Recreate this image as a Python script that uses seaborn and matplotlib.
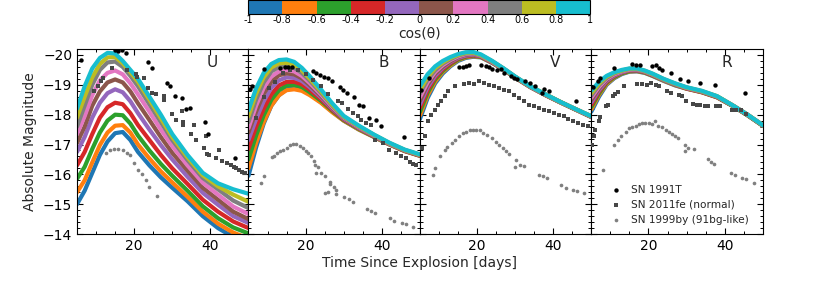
import numpy as np
import pandas as pd
import matplotlib
matplotlib.use('Agg')
import matplotlib.pyplot as plt
import seaborn as sns
from matplotlib.colors import ListedColormap, BoundaryNorm
from matplotlib.ticker import MultipleLocator

sns.set_style('ticks', {'axes.edgecolor': 'black', 'xtick.color': 'black', 'ytick.color': 'black'})

# model time grid (days since explosion)
T_MODEL = [5, 7, 9, 11, 13, 15, 17, 19, 21, 24, 27, 30, 34, 38, 42, 46, 50]
COS_BINS = [-0.9, -0.7, -0.5, -0.3, -0.1, 0.1, 0.3, 0.5, 0.7, 0.9]
BIN_EDGES = [-1, -0.8, -0.6, -0.4, -0.2, 0, 0.2, 0.4, 0.6, 0.8, 1]
BAND_NAMES = ['U', 'B', 'V', 'R']

# model light curves, one row per cos(theta) bin (from -0.9 to 0.9)
U_MODEL = [
    [-15.0, -15.45, -16.05, -16.65, -17.1, -17.38, -17.42, -17.15, -16.75, -16.3, -15.9, -15.55, -15.1, -14.6, -14.2, -13.9, -13.7],
    [-15.4, -15.8, -16.4, -16.98, -17.4, -17.63, -17.65, -17.4, -17.0, -16.53, -16.1, -15.73, -15.25, -14.75, -14.35, -14.05, -13.85],
    [-15.85, -16.25, -16.85, -17.4, -17.8, -18.0, -17.98, -17.7, -17.3, -16.8, -16.35, -15.95, -15.45, -14.93, -14.53, -14.22, -14.02],
    [-16.3, -16.75, -17.35, -17.9, -18.25, -18.4, -18.35, -18.05, -17.65, -17.15, -16.65, -16.2, -15.68, -15.15, -14.75, -14.42, -14.2],
    [-16.75, -17.25, -17.9, -18.4, -18.72, -18.85, -18.75, -18.45, -18.05, -17.5, -16.98, -16.5, -15.92, -15.38, -14.98, -14.6, -14.37],
    [-17.05, -17.6, -18.3, -18.78, -19.08, -19.18, -19.08, -18.78, -18.38, -17.82, -17.25, -16.72, -16.12, -15.55, -15.15, -14.75, -14.5],
    [-17.35, -17.95, -18.65, -19.15, -19.4, -19.48, -19.35, -19.05, -18.68, -18.1, -17.5, -16.95, -16.3, -15.72, -15.32, -14.92, -14.67],
    [-17.6, -18.3, -19.0, -19.5, -19.75, -19.78, -19.6, -19.3, -18.95, -18.35, -17.75, -17.15, -16.48, -15.88, -15.5, -15.12, -14.87],
    [-17.9, -18.6, -19.25, -19.7, -19.92, -19.93, -19.72, -19.42, -19.1, -18.5, -17.88, -17.25, -16.57, -15.97, -15.6, -15.32, -15.08],
    [-18.2, -18.95, -19.55, -19.9, -20.07, -20.05, -19.8, -19.5, -19.2, -18.6, -18.0, -17.35, -16.65, -16.05, -15.7, -15.5, -15.35],
]
B_MODEL = [
    [-15.95, -16.9, -17.7, -18.3, -18.65, -18.85, -18.9, -18.85, -18.7, -18.42, -18.1, -17.8, -17.5, -17.25, -17.0, -16.78, -16.62],
    [-16.2, -17.05, -17.75, -18.3, -18.65, -18.82, -18.85, -18.8, -18.66, -18.4, -18.08, -17.8, -17.5, -17.25, -17.0, -16.78, -16.62],
    [-16.5, -17.3, -17.98, -18.5, -18.82, -18.98, -19.0, -18.93, -18.76, -18.47, -18.13, -17.82, -17.52, -17.26, -17.01, -16.79, -16.63],
    [-16.85, -17.6, -18.2, -18.68, -18.98, -19.1, -19.1, -19.02, -18.84, -18.52, -18.16, -17.84, -17.54, -17.27, -17.02, -16.79, -16.63],
    [-17.15, -17.85, -18.45, -18.9, -19.15, -19.25, -19.23, -19.13, -18.93, -18.58, -18.2, -17.86, -17.55, -17.28, -17.02, -16.8, -16.64],
    [-17.4, -18.1, -18.7, -19.1, -19.32, -19.38, -19.35, -19.22, -19.0, -18.63, -18.23, -17.88, -17.57, -17.29, -17.03, -16.8, -16.64],
    [-17.55, -18.3, -18.9, -19.28, -19.45, -19.5, -19.45, -19.3, -19.07, -18.68, -18.26, -17.9, -17.58, -17.3, -17.03, -16.81, -16.65],
    [-17.75, -18.5, -19.08, -19.45, -19.6, -19.63, -19.57, -19.4, -19.15, -18.74, -18.3, -17.92, -17.6, -17.31, -17.04, -16.81, -16.65],
    [-17.95, -18.7, -19.25, -19.58, -19.72, -19.74, -19.67, -19.49, -19.22, -18.79, -18.33, -17.94, -17.61, -17.32, -17.05, -16.82, -16.66],
    [-18.15, -18.88, -19.4, -19.7, -19.83, -19.85, -19.77, -19.57, -19.3, -18.85, -18.38, -17.96, -17.63, -17.33, -17.06, -16.83, -16.67],
]
V_MODEL = [
    [-17.85, -18.55, -19.05, -19.38, -19.62, -19.8, -19.9, -19.94, -19.92, -19.73, -19.5, -19.24, -18.92, -18.65, -18.4, -18.16, -17.92],
    [-17.97, -18.64, -19.11, -19.43, -19.65, -19.83, -19.92, -19.96, -19.93, -19.74, -19.51, -19.24, -18.92, -18.65, -18.4, -18.16, -17.92],
    [-18.09, -18.73, -19.18, -19.47, -19.69, -19.85, -19.94, -19.98, -19.94, -19.75, -19.51, -19.25, -18.93, -18.66, -18.41, -18.17, -17.93],
    [-18.22, -18.82, -19.24, -19.52, -19.72, -19.88, -19.96, -19.99, -19.95, -19.75, -19.52, -19.25, -18.93, -18.66, -18.41, -18.17, -17.93],
    [-18.34, -18.91, -19.3, -19.57, -19.76, -19.9, -19.98, -20.01, -19.96, -19.76, -19.52, -19.26, -18.93, -18.66, -18.41, -18.17, -17.93],
    [-18.46, -19.0, -19.37, -19.61, -19.79, -19.93, -20.01, -20.03, -19.97, -19.77, -19.53, -19.26, -18.94, -18.67, -18.41, -18.17, -17.94],
    [-18.58, -19.08, -19.43, -19.66, -19.83, -19.95, -20.03, -20.05, -19.98, -19.77, -19.53, -19.27, -18.94, -18.67, -18.42, -18.18, -17.94],
    [-18.71, -19.17, -19.49, -19.71, -19.86, -19.98, -20.05, -20.06, -19.99, -19.78, -19.54, -19.27, -18.94, -18.67, -18.42, -18.18, -17.94],
    [-18.83, -19.26, -19.56, -19.75, -19.9, -20.0, -20.07, -20.08, -20.0, -19.79, -19.54, -19.27, -18.95, -18.68, -18.42, -18.18, -17.95],
    [-18.95, -19.35, -19.62, -19.8, -19.93, -20.03, -20.09, -20.1, -20.02, -19.8, -19.55, -19.28, -18.95, -18.68, -18.42, -18.18, -17.95],
]
R_MODEL = [
    [-18.1, -18.6, -19.0, -19.22, -19.36, -19.44, -19.45, -19.4, -19.3, -19.13, -18.98, -18.87, -18.75, -18.58, -18.3, -17.98, -17.63],
    [-18.18, -18.66, -19.03, -19.24, -19.38, -19.45, -19.46, -19.41, -19.31, -19.14, -18.99, -18.87, -18.75, -18.58, -18.3, -17.98, -17.63],
    [-18.26, -18.71, -19.07, -19.26, -19.39, -19.46, -19.47, -19.42, -19.32, -19.15, -19.0, -18.88, -18.76, -18.59, -18.3, -17.98, -17.63],
    [-18.33, -18.77, -19.1, -19.29, -19.41, -19.48, -19.48, -19.43, -19.33, -19.16, -19.01, -18.88, -18.76, -18.59, -18.31, -17.99, -17.64],
    [-18.41, -18.82, -19.13, -19.31, -19.42, -19.49, -19.49, -19.44, -19.34, -19.16, -19.01, -18.89, -18.77, -18.6, -18.31, -17.99, -17.64],
    [-18.49, -18.88, -19.17, -19.33, -19.44, -19.5, -19.51, -19.44, -19.35, -19.17, -19.02, -18.9, -18.77, -18.6, -18.31, -17.99, -17.64],
    [-18.57, -18.93, -19.2, -19.35, -19.45, -19.51, -19.52, -19.45, -19.35, -19.18, -19.03, -18.9, -18.78, -18.61, -18.32, -18.0, -17.65],
    [-18.64, -18.99, -19.23, -19.38, -19.47, -19.53, -19.53, -19.46, -19.36, -19.18, -19.03, -18.91, -18.78, -18.61, -18.32, -18.0, -17.65],
    [-18.72, -19.04, -19.27, -19.4, -19.48, -19.54, -19.54, -19.47, -19.37, -19.19, -19.04, -18.91, -18.79, -18.62, -18.32, -18.0, -17.65],
    [-18.8, -19.1, -19.3, -19.42, -19.5, -19.55, -19.55, -19.48, -19.38, -19.2, -19.05, -18.92, -18.8, -18.62, -18.32, -18.0, -17.65],
]

# observed supernovae
U_91T_T = [6.0, 15.0, 15.8, 16.9, 17.8, 23.6, 24.7, 28.5, 29.5, 30.6, 32.5, 33.7, 34.6, 38.5, 39.5, 46.5]
U_91T_M = [-19.82, -20.15, -20.13, -20.16, -20.07, -19.76, -19.57, -19.07, -18.95, -18.64, -18.56, -18.2, -18.22, -17.74, -17.35, -16.55]
U_11FE_T = [9.5, 10.4, 11.2, 11.9, 14.1, 18.0, 20.4, 20.8, 22.7, 23.6, 24.7, 25.8, 27.7, 27.7, 29.9, 31.1, 32.5, 32.7,
            32.9, 34.9, 35.6, 36.2, 38.3, 38.8, 39.2, 39.6, 41.4, 42.2, 43.1, 44.4, 45.3, 46.1, 46.6, 47.4, 48.3, 49.2]
U_11FE_M = [-18.78, -18.95, -19.12, -19.23, -19.57, -19.51, -19.37, -19.25, -19.23, -18.9, -18.73, -18.7, -18.61, -18.5,
            -18.02, -17.83, -18.11, -17.75, -17.66, -17.35, -17.66, -17.16, -16.88, -17.27, -16.69, -16.66, -16.54, -16.82,
            -16.46, -16.37, -16.32, -16.26, -16.2, -16.15, -16.09, -16.04]
U_99BY_T = [12.5, 13.7, 14.7, 15.8, 17.0, 18.0, 18.9, 19.9, 21.0, 22.1, 23.0, 24.0, 26.0]
U_99BY_M = [-16.73, -16.82, -16.85, -16.85, -16.8, -16.73, -16.65, -16.38, -16.15, -16.01, -15.81, -15.59, -15.28]

B_91T_T = [5.4, 6.0, 9.2, 13.3, 14.6, 15.4, 16.3, 22.0, 22.8, 23.7, 24.8, 25.9, 26.9, 28.9, 29.8, 30.9, 32.8, 34.1, 35.0,
           36.7, 38.5, 39.8, 45.9]
B_91T_M = [-18.85, -18.95, -19.54, -19.55, -19.6, -19.6, -19.6, -19.47, -19.4, -19.34, -19.26, -19.23, -19.14, -18.93,
           -18.84, -18.73, -18.58, -18.33, -18.28, -17.9, -17.83, -17.61, -17.24]
B_11FE_T = [7.0, 9.0, 10.5, 12.0, 14.0, 16.0, 18.0, 20.0, 22.0, 24.0, 26.0, 28.5, 29.6, 31.1, 32.4, 33.7, 34.6, 35.9,
            37.2, 38.1, 40.3, 42.0, 43.8, 45.1, 46.4, 47.3, 48.2, 49.0]
B_11FE_M = [-17.9, -18.6, -18.9, -19.1, -19.4, -19.5, -19.5, -19.35, -19.15, -18.95, -18.7, -18.45, -18.39, -18.2, -18.05,
            -17.94, -17.83, -17.72, -17.66, -17.16, -17.05, -16.82, -16.71, -16.62, -16.54, -16.43, -16.35, -16.32]
B_99BY_T = [8.3, 9.2, 11.3, 11.8, 12.4, 13.3, 14.1, 15.0, 15.9, 16.7, 17.6, 18.5, 19.3, 20.2, 20.5, 21.3, 22.2, 22.4,
            23.3, 22.8, 24.1, 25.2, 26.3, 26.3, 27.4, 25.0, 26.0, 27.9, 28.0, 30.2, 31.3, 32.4, 36.1, 37.2, 38.2, 42.2,
            43.3, 45.2, 46.3, 48.2]
B_99BY_M = [-15.7, -15.96, -16.58, -16.6, -16.71, -16.77, -16.82, -16.88, -16.99, -17.03, -17.03, -16.96, -16.88, -16.77,
            -16.71, -16.62, -16.46, -16.32, -16.26, -16.06, -16.06, -15.93, -15.76, -15.67, -15.59, -15.39, -15.42, -15.33,
            -15.48, -15.25, -15.16, -15.06, -14.83, -14.78, -14.71, -14.55, -14.43, -14.38, -14.33, -14.24]

V_91T_T = [5.4, 7.4, 15.2, 16.3, 17.1, 18.0, 21.0, 22.3, 23.2, 24.0, 25.3, 26.2, 27.1, 28.8, 29.7, 30.5, 32.7, 34.0,
           35.3, 37.0, 37.5, 38.8, 45.9]
V_91T_M = [-18.84, -19.23, -19.59, -19.59, -19.62, -19.68, -19.66, -19.62, -19.59, -19.54, -19.51, -19.53, -19.4, -19.29,
           -19.23, -19.2, -19.12, -19.06, -18.95, -18.73, -18.87, -18.78, -18.45]
V_11FE_T = [5.6, 6.3, 7.2, 8.0, 8.9, 9.8, 10.6, 11.5, 12.4, 14.1, 16.7, 18.0, 19.3, 20.6, 21.9, 23.2, 24.5, 25.8, 27.1,
            28.4, 29.7, 31.0, 32.3, 33.6, 34.9, 36.2, 37.5, 38.8, 40.1, 41.4, 42.7, 44.0, 45.3, 46.6, 47.9, 49.2]
V_11FE_M = [-16.88, -17.27, -17.78, -18.0, -18.17, -18.34, -18.47, -18.61, -18.78, -18.95, -19.03, -19.06, -19.02,
            -19.12, -19.06, -18.98, -18.95, -18.9, -18.81, -18.78, -18.67, -18.56, -18.45, -18.34, -18.28, -18.22, -18.17,
            -18.11, -18.05, -18.0, -17.94, -17.87, -17.8, -17.72, -17.66, -17.61]
V_99BY_T = [8.4, 8.9, 10.3, 11.6, 12.2, 13.3, 14.2, 15.3, 16.4, 17.2, 18.1, 18.9, 19.8, 20.7, 21.6, 22.6, 23.8, 24.9,
            25.8, 26.8, 27.7, 28.3, 30.2, 31.3, 32.3, 29.9, 36.3, 37.3, 38.4, 42.1, 43.3, 45.2, 46.2, 48.2]
V_99BY_M = [-15.98, -16.21, -16.62, -16.82, -16.91, -17.05, -17.16, -17.27, -17.38, -17.43, -17.47, -17.49, -17.49,
            -17.47, -17.38, -17.33, -17.22, -17.1, -16.99, -16.88, -16.77, -16.69, -16.49, -16.32, -16.29, -16.24, -15.98,
            -15.93, -15.87, -15.63, -15.54, -15.48, -15.45, -15.37]

R_91T_T = [5.4, 6.7, 7.2, 10.9, 15.8, 16.7, 17.8, 21.0, 21.9, 22.7, 23.6, 25.8, 28.4, 30.5, 33.6, 37.5, 45.3]
R_91T_M = [-18.92, -19.14, -19.23, -19.57, -19.71, -19.68, -19.66, -19.62, -19.66, -19.55, -19.51, -19.4, -19.18, -19.12,
           -19.06, -19.01, -18.73]
R_11FE_T = [5.3, 5.6, 6.0, 6.9, 7.4, 8.9, 9.3, 10.6, 11.1, 11.9, 13.7, 17.1, 18.4, 19.7, 20.6, 21.9, 22.7, 24.9, 25.8,
            27.9, 28.8, 29.9, 31.8, 32.7, 33.6, 34.9, 35.7, 37.7, 38.8, 41.8, 43.1, 44.4, 45.7]
R_11FE_M = [-17.0, -17.3, -17.5, -17.8, -17.91, -18.28, -18.34, -18.61, -18.69, -18.76, -18.95, -19.03, -19.03, -19.0,
            -19.06, -18.98, -18.95, -18.78, -18.73, -18.65, -18.61, -18.45, -18.37, -18.32, -18.32, -18.28, -18.28, -18.28,
            -18.3, -18.17, -18.15, -18.14, -18.02]
R_99BY_T = [8.1, 11.0, 11.9, 12.7, 14.0, 14.8, 15.7, 16.6, 17.5, 18.3, 19.2, 20.1, 20.9, 21.7, 22.6, 23.5, 24.5, 25.4,
            26.2, 26.9, 27.8, 29.5, 30.4, 31.9, 29.5, 35.6, 36.5, 37.3, 41.7, 42.6, 44.5, 45.6, 47.6]
R_99BY_M = [-16.13, -16.99, -17.16, -17.27, -17.43, -17.54, -17.57, -17.62, -17.68, -17.71, -17.71, -17.71, -17.68,
            -17.78, -17.62, -17.57, -17.48, -17.43, -17.35, -17.27, -17.21, -16.99, -16.88, -16.85, -16.77, -16.52, -16.43,
            -16.35, -16.04, -15.98, -15.87, -15.84, -15.7]

MODELS = [U_MODEL, B_MODEL, V_MODEL, R_MODEL]
OBS_91T = [(U_91T_T, U_91T_M), (B_91T_T, B_91T_M), (V_91T_T, V_91T_M), (R_91T_T, R_91T_M)]
OBS_11FE = [(U_11FE_T, U_11FE_M), (B_11FE_T, B_11FE_M), (V_11FE_T, V_11FE_M), (R_11FE_T, R_11FE_M)]
OBS_99BY = [(U_99BY_T, U_99BY_M), (B_99BY_T, B_99BY_M), (V_99BY_T, V_99BY_M), (R_99BY_T, R_99BY_M)]

colors = sns.color_palette('tab10', 10)
cmap = ListedColormap(colors)
norm = BoundaryNorm(BIN_EDGES, cmap.N)

fig = plt.figure(figsize=(8.3, 2.97), dpi=100)
axes = []
left, right, bottom, top = 0.0928, 0.919, 0.212, 0.835
w = (right - left) / 4
for i in range(4):
    ax = fig.add_axes([left + i * w, bottom, w, top - bottom], sharey=axes[0] if axes else None)
    axes.append(ax)

for i, ax in enumerate(axes):
    for j, c in enumerate(COS_BINS):
        sns.lineplot(x=T_MODEL, y=MODELS[i][j], color=cmap(norm(c)), lw=3, ax=ax, zorder=2)
    t, m = OBS_91T[i]
    sns.scatterplot(x=t, y=m, color='black', s=10, linewidth=0, marker='o', ax=ax, zorder=4,
                    label='SN 1991T' if i == 3 else None)
    t, m = OBS_11FE[i]
    sns.scatterplot(x=t, y=m, color='#474747', s=9, linewidth=0, marker='s', ax=ax, zorder=3,
                    label='SN 2011fe (normal)' if i == 3 else None)
    t, m = OBS_99BY[i]
    sns.scatterplot(x=t, y=m, color='#808080', s=7, linewidth=0, marker='o', ax=ax, zorder=3,
                    label='SN 1999by (91bg-like)' if i == 3 else None)

    ax.set_xlim(5, 50)
    ax.set_ylim(-14, -20.2)
    ax.xaxis.set_major_locator(MultipleLocator(20))
    ax.xaxis.set_minor_locator(MultipleLocator(5))
    ax.yaxis.set_major_locator(MultipleLocator(1))
    ax.yaxis.set_minor_locator(MultipleLocator(0.2))
    ax.tick_params(which='both', direction='in', top=True, right=True, labelsize=10, color='black')
    ax.tick_params(which='major', length=4, width=0.8)
    ax.tick_params(which='minor', length=2.5, width=0.7)
    ax.text(0.79, 0.965, BAND_NAMES[i], transform=ax.transAxes, fontsize=11, ha='center', va='top')
    ax.set_xlabel('')
    ax.set_ylabel('')
    for s in ax.spines.values():
        s.set_linewidth(0.8)
        s.set_color('black')
    if i > 0:
        ax.tick_params(labelleft=False)
    if i < 3 and ax.get_legend() is not None:
        ax.get_legend().remove()

axes[0].set_ylabel('Absolute Magnitude', fontsize=10)
fig.text((left + right) / 2, 0.115, 'Time Since Explosion [days]', ha='center', va='center', fontsize=10)

axes[3].legend(loc='lower left', bbox_to_anchor=(0.06, 0.0), frameon=False, fontsize=7.6,
               handlelength=1.0, handletextpad=0.9, labelspacing=0.45, markerscale=1.0)

cax = fig.add_axes([0.299, 0.953, 0.412, 0.047])
sm = matplotlib.cm.ScalarMappable(cmap=cmap, norm=norm)
cb = fig.colorbar(sm, cax=cax, orientation='horizontal', ticks=BIN_EDGES)
cb.ax.set_xticklabels(['-1', '-0.8', '-0.6', '-0.4', '-0.2', '0', '0.2', '0.4', '0.6', '0.8', '1'])
cb.ax.tick_params(labelsize=7, length=0, pad=1)
cb.outline.set_linewidth(0.8)
cb.set_label('cos(θ)', fontsize=10, labelpad=1)

fig.savefig('out.png', dpi=100)
